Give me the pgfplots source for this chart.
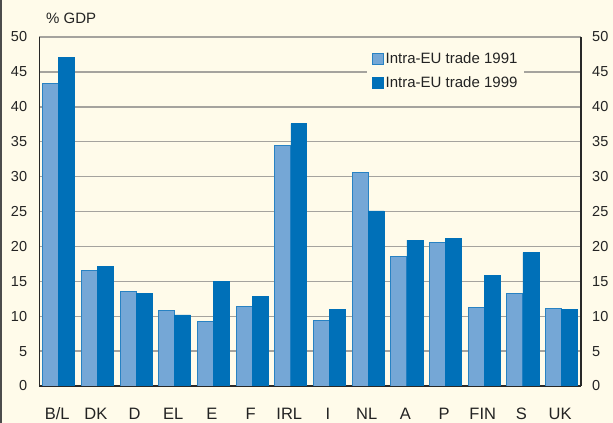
\documentclass[border=0pt]{standalone}
\usepackage{fontspec}
\setmainfont{Liberation Sans}
\usepackage{pgfplots}
\pgfplotsset{compat=1.18}
\definecolor{cream}{RGB}{255,251,234}
\definecolor{lightbar}{RGB}{117,167,214}
\definecolor{lightedge}{RGB}{40,130,195}
\definecolor{darkbar}{RGB}{0,112,184}
\definecolor{gridc}{RGB}{165,163,158}
\definecolor{axisc}{RGB}{40,40,40}
\definecolor{textc}{RGB}{35,35,35}
\begin{document}
\begin{tikzpicture}
\path[use as bounding box, fill=cream] (0,0) rectangle (613bp,423bp);
\draw[color=gray!60!black, line width=1.6bp] (0.8bp,0) -- (0.8bp,423bp);
\pgfplotsset{common/.style={
  at={(39.3bp,37bp)}, anchor=south west, scale only axis,
  width=541.7bp, height=349bp,
  xmin=-0.5, xmax=13.5, ymin=0, ymax=50, ytick={0,5,...,50},
  major tick length=0pt,
  /pgf/number format/assume math mode=true,
  ticklabel style={font=\fontsize{14.5bp}{17bp}\selectfont, color=textc},
  axis line style={-, color=axisc, line width=1.2bp},
}}
\begin{axis}[common, axis x line*=bottom, axis y line*=left,
  ymajorgrids, grid style={color=gridc, line width=1.4bp},
  xtick={0,...,13},
  xticklabels={B/L,DK,D,EL,E,F,IRL,I,NL,A,P,FIN,S,UK},
  xticklabel style={font=\fontsize{16.5bp}{19bp}\selectfont, anchor=base, inner sep=0pt, yshift=-33bp, xshift=-1.5bp},
  yticklabel style={anchor=east, inner sep=0pt, xshift=-12bp},
  ybar=0pt, bar width=0.413,
  legend image code/.code={\draw[#1,/tikz/.cd,yshift=0pt] (0bp,-5.5bp) rectangle (11bp,5.5bp);},
  legend cell align=left,
  legend style={at={(0.605,0.986)}, anchor=north west, draw=none, fill=cream,
    font=\fontsize{15bp}{18bp}\selectfont, text=textc,
    inner xsep=5bp, inner ysep=9bp, row sep=9bp,
    nodes={inner sep=1.5bp}},
]
\addplot[fill=lightbar, draw=lightedge, line width=1bp] coordinates {
(0,43.4) (1,16.5) (2,13.6) (3,10.8) (4,9.3) (5,11.4) (6,34.4)
(7,9.4) (8,30.6) (9,18.6) (10,20.5) (11,11.2) (12,13.2) (13,11.1)};
\addplot[fill=darkbar, draw=darkbar, line width=0.6bp] coordinates {
(0,47.1) (1,17.1) (2,13.3) (3,10.2) (4,15.0) (5,12.8) (6,37.6)
(7,11.0) (8,25.1) (9,20.9) (10,21.1) (11,15.9) (12,19.1) (13,11.0)};
\legend{Intra-EU trade 1991, Intra-EU trade 1999}
\end{axis}
\begin{axis}[common, axis x line=none, axis y line*=right,
  yticklabel style={anchor=west, inner sep=0pt, xshift=11bp}]
\end{axis}
\node[anchor=base west, inner sep=0pt, font=\fontsize{15bp}{18bp}\selectfont, text=textc] at (46bp,399bp) {\% GDP};
\end{tikzpicture}
\end{document}
